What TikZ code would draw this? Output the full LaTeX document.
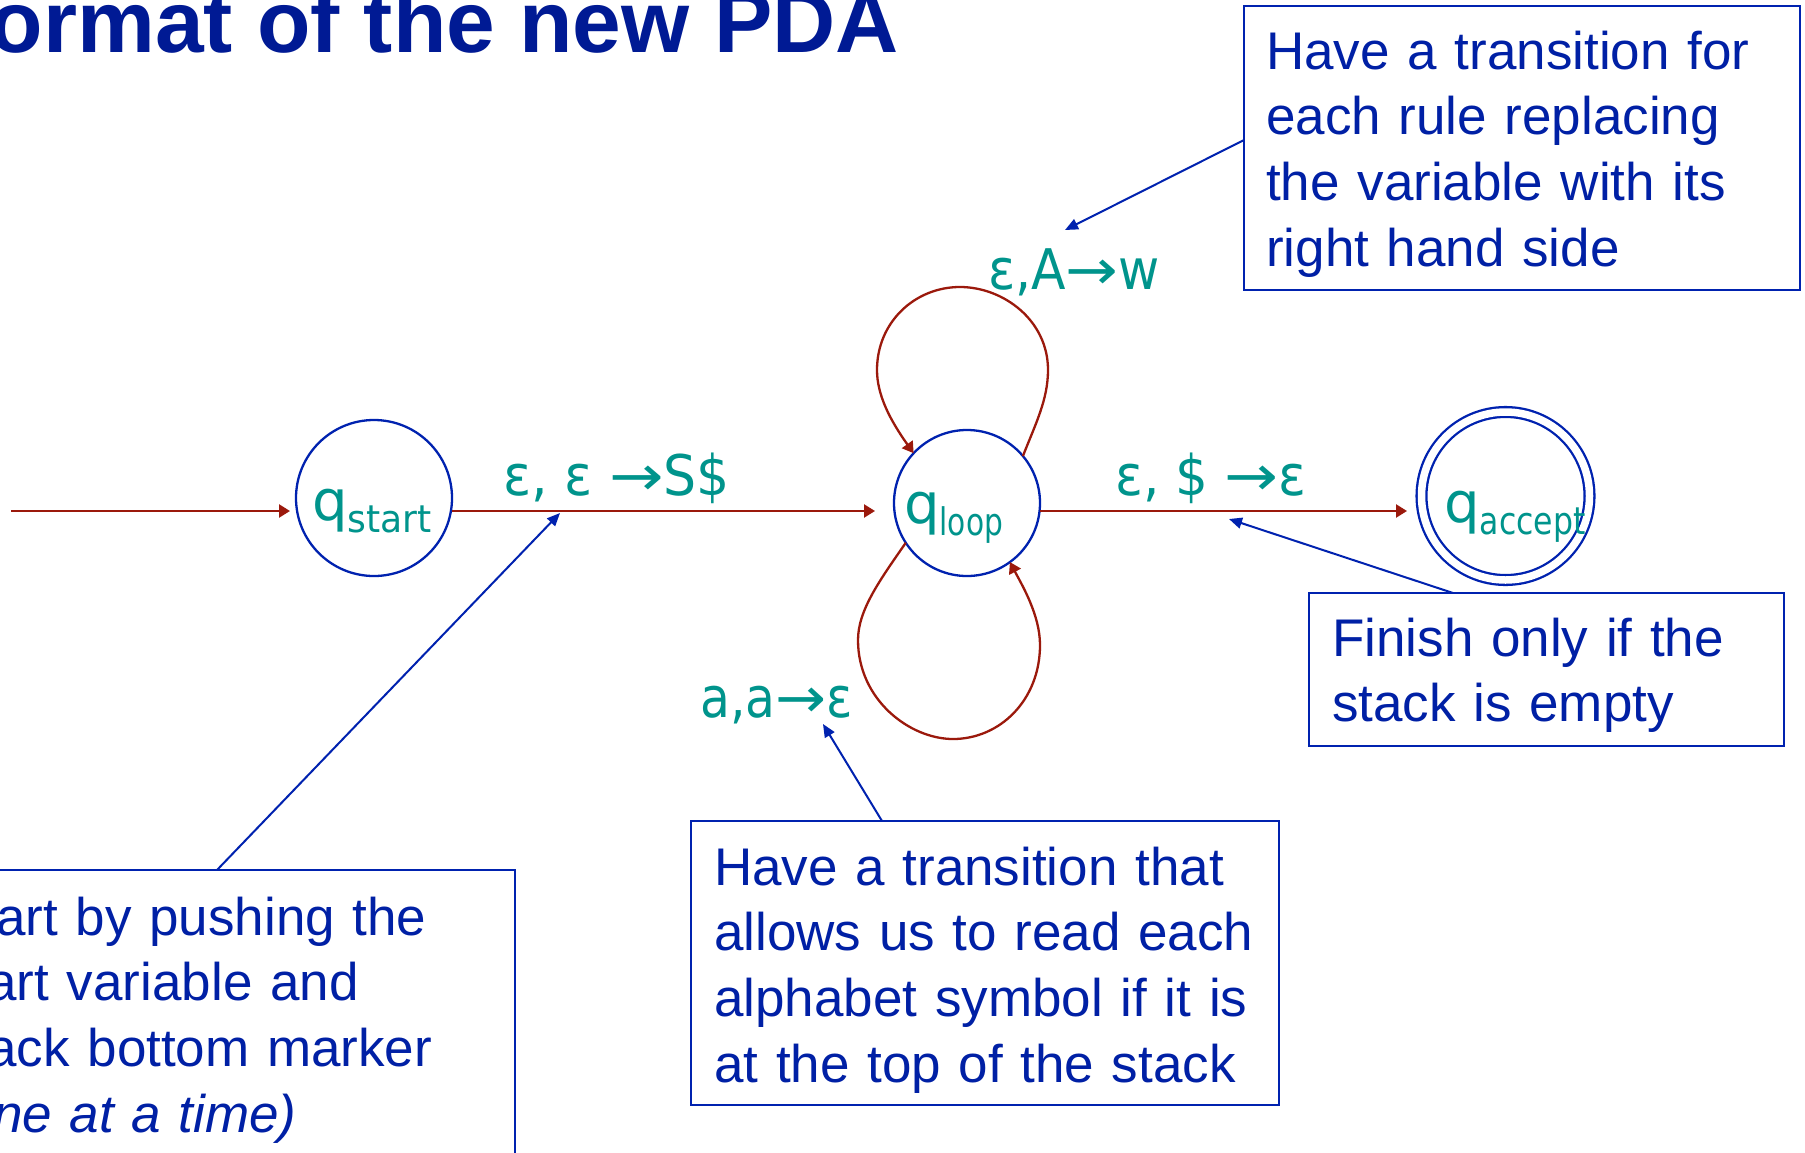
\documentclass[tikz,border=0pt]{standalone}
\usepackage{fontspec}
\usepackage{graphicx}
\setmainfont{Liberation Sans}
\newfontfamily\cfont{DejaVu Sans}
\usetikzlibrary{arrows.meta,calc}
\definecolor{titleblue}{RGB}{0,26,148}
\definecolor{txtblue}{RGB}{0,32,165}
\definecolor{lineblue}{RGB}{0,34,175}
\definecolor{tealc}{RGB}{0,148,140}
\definecolor{darkred}{RGB}{155,25,12}
\newcommand{\qsubs}[2]{\raisebox{-12pt}{\fontsize{38}{38}\selectfont\scalebox{#2}[1]{#1}}}
\newcommand{\hsc}[2]{\scalebox{#1}[1]{#2}}
\newcommand{\larr}{\scalebox{1.25}[1]{→}}
\begin{document}
\begin{tikzpicture}[x=1pt,y=-1pt,
  pdastate/.style={circle,draw=lineblue,line width=2.3pt,inner sep=0pt,outer sep=0pt},
  trans/.style={draw=darkred,line width=2.3pt,-{Triangle[length=11pt,width=13pt]}},
  callout/.style={draw=lineblue,line width=2pt,-{Triangle[length=13pt,width=11pt]}},
  calloutbox/.style={draw=lineblue,line width=2.3pt,rectangle,inner sep=0pt,outer sep=0pt,anchor=north west,fill=white},
  boxtext/.style={anchor=base west,inner sep=0pt,text width=600pt,align=left,text=txtblue,font=\fontsize{53}{65.7}\selectfont},
  lbl/.style={anchor=base west,inner sep=0pt,text=tealc,font=\cfont\fontsize{56}{56}\selectfont},
  titlestyle/.style={anchor=base east,inner sep=0pt,text=titleblue,font=\bfseries\fontsize{87.5}{87.5}\selectfont},
]
\useasboundingbox (0,0) rectangle (1805,1152);
\clip (0,0) rectangle (1805,1152);
\fill[white] (0,0) rectangle (1805,1152);

% title
\node[titlestyle] (title) at (899,52) {Format of the new PDA};

% states
\node[pdastate,minimum size=156pt] (qstart) at (374,498) {};
\node[pdastate,minimum size=146pt] (qloop) at (967,503) {};
\node[pdastate,double,double distance=7.5pt,minimum size=168pt] (qaccept) at (1505.5,496) {};

\node[lbl] (lstart) at (312,520) {q\qsubs{start}{0.95}};
\node[lbl] (lloop) at (904,523) {q\qsubs{loop}{0.78}};
\node[lbl] (laccept) at (1444,522) {q\qsubs{accept}{0.83}};

% transition labels
\node[lbl] (t1) at (503,495) {\hsc{0.93}{ε, ε \larr S\$}};
\node[lbl] (t2) at (1115,495) {\hsc{0.92}{ε, \$ \larr ε}};
\node[lbl] (t3) at (988,289) {\hsc{0.9}{ε,A\larr w}};
\node[lbl] (t4) at (700,717) {\hsc{0.87}{a,a\larr ε}};

% transitions
\coordinate (init) at (11,511);
\draw[trans,shorten >=6pt] (init) -- (init -| qstart.west);
\draw[trans,shorten >=19pt] (qstart.east |- init) -- (qloop.west |- init);
\draw[trans,shorten >=14.5pt] (qloop.east |- init) -- (qaccept.west |- init);

\draw[trans] (qloop.40) .. controls (1035,425) and (1048,400) .. (1048,370)
  .. controls (1048,320) and (1003,287) .. (960,287)
  .. controls (915,287) and (877,322) .. (877,370)
  .. controls (877,395) and (890,420) .. (qloop.137);

\draw[trans] (qloop.213) .. controls (880,580) and (858,610) .. (858,640)
  .. controls (858,700) and (910,739) .. (953,739)
  .. controls (1000,739) and (1040,700) .. (1040,645)
  .. controls (1040,615) and (1022,585) .. (qloop.306);

% callout boxes
\node[calloutbox,minimum width=556pt,minimum height=284pt] (box1) at (1244,6) {};
\node[boxtext] (txt1) at (1266,69) {Have a transition for\\each rule replacing\\the variable with its\\right hand side};

\node[calloutbox,minimum width=475pt,minimum height=153pt] (box2) at (1309,593) {};
\node[boxtext] (txt2) at (1332,656) {Finish only if the\\stack is empty};

\node[calloutbox,minimum width=588pt,minimum height=284pt] (box3) at (691,821) {};
\node[boxtext] (txt3) at (714,885) {Have a transition that\\allows us to read each\\alphabet symbol if it is\\at the top of the stack};

\node[calloutbox,minimum width=590pt,minimum height=400pt] (box4) at (-75,870) {};
\node[boxtext] (txt4) at (-54,935) {Start by pushing the\\start variable and\\stack bottom marker\\\textit{(one at a time)}};

% callout arrows
\coordinate (c1) at (1065,230);
\coordinate (c2) at (1229,519);
\coordinate (c3) at (823,724);
\coordinate (c4) at (560,513);
\draw[callout] ($(box1.north west)+(0,134)$) -- (c1);
\draw[callout] ($(box2.north west)+(144,0)$) -- (c2);
\draw[callout] ($(box3.north west)+(191,0)$) -- (c3);
\draw[callout] ($(box4.north west)+(292,0)$) -- (c4);
\end{tikzpicture}
\end{document}
